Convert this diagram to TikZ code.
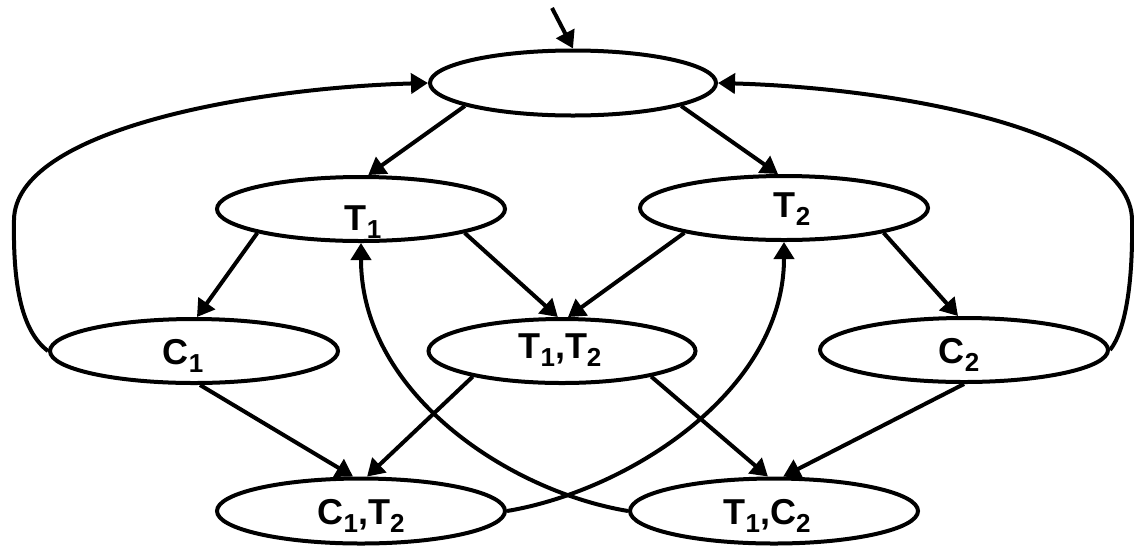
\documentclass[tikz,border=0pt]{standalone}
\usepackage{fontspec}
\setmainfont{Liberation Sans}
\usetikzlibrary{shapes.geometric,arrows.meta}
\newcommand{\subidx}[1]{\raisebox{-4pt}{\fontsize{13}{13}\selectfont #1}}

\begin{document}
\begin{tikzpicture}[x=0.5pt,y=-0.5pt,
  state/.style={draw,ellipse,line width=2pt,minimum width=144pt,minimum height=32pt,inner sep=0pt},
  lbl/.style={font=\fontsize{18}{18}\selectfont\bfseries,inner sep=0pt,text height=13pt,text depth=0pt},
  arr/.style={line width=2pt,-{Triangle[length=8.5pt,width=10pt]}}]
  \useasboundingbox (0,0) rectangle (1134,547);
  \node[state,minimum width=143pt,minimum height=32.5pt] (top) at (573,83) {};
  \node[state,label={[lbl,xshift=1pt,yshift=-4pt]center:T\subidx{1}}] (t1) at (361,209) {};
  \node[state,label={[lbl,xshift=4pt,yshift=2pt]center:T\subidx{2}}] (t2) at (784,208) {};
  \node[state,label={[lbl,xshift=-5.5pt]center:C\subidx{1}}] (c1) at (194,351) {};
  \node[state,minimum width=133.5pt,label={[lbl,xshift=-1pt,yshift=3pt]center:{T\subidx{1},T\subidx{2}}}] (t1t2) at (562,351) {};
  \node[state,label={[lbl,xshift=-2.5pt]center:C\subidx{2}}] (c2) at (964,350) {};
  \node[state,minimum height=32.5pt,label={[lbl]center:{C\subidx{1},T\subidx{2}}}] (c1t2) at (361,511) {};
  \node[state,minimum height=32.5pt,label={[lbl,xshift=-3.5pt]center:{T\subidx{1},C\subidx{2}}}] (t1c2) at (774,511) {};
  \coordinate (init) at (552,8);
  % straight edges
  \draw[arr] (init) -- (top.north);
  \draw[arr] (top.192) -- (t1.78);
  \draw[arr] (top.348) -- (t2.100);
  \draw[arr] (t1.193) -- (c1.85);
  \draw[arr] (t1.347) -- (t1t2.97);
  \draw[arr] (t2.194) -- (t1t2.80);
  \draw[arr] (t2.346) -- (c2.100);
  \draw[arr] (c1.280) -- (c1t2.103);
  \draw[arr] (t1t2.196) -- (c1t2.80);
  \draw[arr] (t1t2.344) -- (t1c2.100);
  \draw[arr] (c2.south) -- (t1c2.75);
  % curved edges
  \draw[arr] (c1t2.east) .. controls +(120,-20) and +(0,150) .. (t2.south);
  \draw[arr] (t1c2.west) .. controls +(-120,-20) and +(0,150) .. (t1.south);
  \draw[arr] (c1.west) .. controls (20,330) and (13,280) .. (14,220) .. controls (15,130) and (250,88) .. (top.west);
  \draw[arr] (c2.east) .. controls (1126,330) and (1133,280) .. (1132,220) .. controls (1131,130) and (896,88) .. (top.east);
\end{tikzpicture}
\end{document}
